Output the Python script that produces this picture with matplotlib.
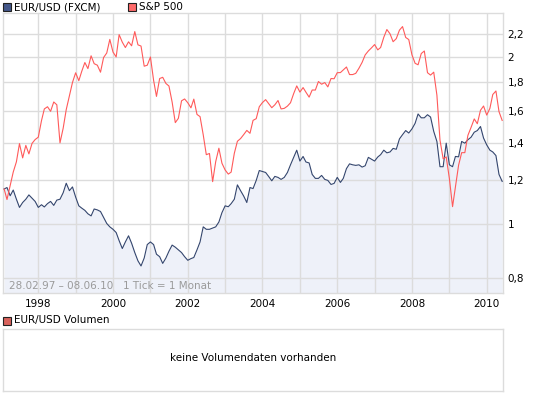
import matplotlib
matplotlib.use("Agg")
import matplotlib.pyplot as plt
import matplotlib.dates as mdates
from matplotlib.patches import Rectangle
from matplotlib.ticker import FixedLocator, FuncFormatter, NullLocator
import numpy as np
import pandas as pd

plt.rcParams['font.family'] = ['DejaVu Sans']

# ---------------- data (monthly, Feb 1997 - Jun 2010) ----------------
start_month = "1997-02-01"

eurusd = [
    1.158, 1.165, 1.126, 1.153, 1.110, 1.073, 1.095, 1.110, 1.130, 1.115, 1.100,            # 1997
    1.073, 1.085, 1.075, 1.090, 1.100, 1.082, 1.106, 1.110, 1.140, 1.186, 1.150, 1.168,     # 1998
    1.120, 1.080, 1.070, 1.060, 1.045, 1.036, 1.066, 1.062, 1.055, 1.030, 1.004, 0.990,     # 1999
    0.980, 0.967, 0.935, 0.905, 0.930, 0.954, 0.925, 0.890, 0.860, 0.842, 0.870, 0.920,     # 2000
    0.930, 0.920, 0.884, 0.875, 0.851, 0.870, 0.895, 0.918, 0.910, 0.900, 0.890, 0.875,     # 2001
    0.862, 0.868, 0.872, 0.900, 0.930, 0.990, 0.980, 0.980, 0.985, 0.990, 1.010, 1.050,     # 2002
    1.080, 1.076, 1.090, 1.110, 1.178, 1.150, 1.125, 1.095, 1.165, 1.160, 1.200, 1.250,     # 2003
    1.245, 1.240, 1.220, 1.198, 1.220, 1.215, 1.205, 1.215, 1.240, 1.280, 1.320, 1.360,     # 2004
    1.300, 1.325, 1.295, 1.290, 1.230, 1.210, 1.210, 1.225, 1.205, 1.200, 1.180, 1.185,     # 2005
    1.215, 1.190, 1.210, 1.260, 1.285, 1.280, 1.277, 1.280, 1.268, 1.275, 1.320, 1.310,     # 2006
    1.300, 1.322, 1.335, 1.360, 1.345, 1.350, 1.370, 1.365, 1.425, 1.450, 1.475, 1.460,     # 2007
    1.485, 1.520, 1.580, 1.555, 1.555, 1.575, 1.560, 1.470, 1.410, 1.270, 1.270, 1.400,     # 2008
    1.280, 1.270, 1.325, 1.323, 1.410, 1.400, 1.420, 1.435, 1.465, 1.475, 1.500, 1.430,     # 2009
    1.390, 1.360, 1.350, 1.330, 1.230, 1.195,                                               # 2010
]

sp500 = [
    790.82, 757.12, 801.34, 848.28, 885.14, 954.29, 899.47, 947.28, 914.62, 955.40, 970.43,
    980.28, 1049.34, 1101.75, 1111.75, 1090.82, 1133.84, 1120.67, 957.28, 1017.01, 1098.67, 1163.63, 1229.23,
    1279.64, 1238.33, 1286.37, 1335.18, 1301.84, 1372.71, 1328.72, 1320.41, 1282.71, 1362.93, 1388.91, 1469.25,
    1394.46, 1366.42, 1498.58, 1452.43, 1420.60, 1454.60, 1430.83, 1517.68, 1436.51, 1429.40, 1314.95, 1320.28,
    1366.01, 1239.94, 1160.33, 1249.46, 1255.82, 1224.42, 1211.23, 1133.58, 1040.94, 1059.78, 1139.45, 1148.08,
    1130.20, 1106.73, 1147.39, 1076.92, 1067.14, 989.82, 911.62, 916.07, 815.28, 885.76, 936.31, 879.82,
    855.70, 841.15, 848.18, 916.92, 963.59, 974.50, 990.31, 1008.01, 995.97, 1050.71, 1058.20, 1111.92,
    1131.13, 1144.94, 1126.21, 1107.30, 1120.68, 1140.84, 1101.72, 1104.24, 1114.58, 1130.20, 1173.82, 1211.92,
    1181.27, 1203.60, 1180.59, 1156.85, 1191.50, 1191.33, 1234.18, 1220.33, 1228.81, 1207.01, 1249.48, 1248.29,
    1280.08, 1280.66, 1294.83, 1310.61, 1270.09, 1270.20, 1276.66, 1303.82, 1335.85, 1377.94, 1400.63, 1418.30,
    1438.24, 1406.82, 1420.86, 1482.37, 1530.62, 1503.35, 1455.27, 1473.99, 1526.75, 1549.38, 1481.14, 1468.36,
    1378.55, 1330.63, 1322.70, 1385.59, 1400.38, 1280.00, 1267.38, 1282.83, 1166.36, 968.75, 896.24, 903.25,
    825.88, 735.09, 797.87, 872.81, 919.14, 919.32, 987.48, 1020.62, 1057.08, 1036.19, 1095.63, 1115.10,
    1073.87, 1104.49, 1169.43, 1186.69, 1089.41, 1050.47,
]

y_ticks = [0.8, 1.0, 1.2, 1.4, 1.6, 1.8, 2.0, 2.2]
year_labels = [1998, 2000, 2002, 2004, 2006, 2008, 2010]

# ---------------- derived ----------------
dates = pd.date_range(start_month, periods=len(eurusd), freq="MS")
sp_rel = np.array(sp500) / sp500[0] * eurusd[0]   # S&P 500 relative to EUR/USD start

W, H = 545, 395
fig = plt.figure(figsize=(W / 100, H / 100), dpi=100)
fig.patch.set_facecolor("white")

def fx(px):
    return px / W

def fy(py):
    return 1 - py / H

L, R = 2.7, 503.3
T1, B1 = 13.3, 293.0
ax = fig.add_axes([fx(L), fy(B1), fx(R - L), (B1 - T1) / H])

grid_c = "#dcdcdc"
blue = "#34466e"
red = "#ff5a5a"
fill_c = "#eef1f9"

ax.set_yscale("log")
ymin, ymax = 0.7528, 2.397
ax.set_ylim(ymin, ymax)
ax.set_xlim(pd.Timestamp("1997-01-18"), pd.Timestamp("2010-06-12"))

ax.fill_between(dates, eurusd, ymin * 0.5, color=fill_c, lw=0, zorder=1)
ax.plot(dates, eurusd, color=blue, lw=0.8, zorder=3)
ax.plot(dates, sp_rel, color=red, lw=0.8, zorder=3)

ax.yaxis.set_major_locator(FixedLocator(y_ticks))
ax.yaxis.set_minor_locator(NullLocator())
ax.yaxis.set_major_formatter(FuncFormatter(lambda v, p: (("%g" % v).replace(".", ","))))
ax.yaxis.tick_right()
ax.tick_params(axis="y", length=0, pad=3, labelsize=7.5, colors="black")

ax.xaxis.set_major_locator(FixedLocator([mdates.date2num(pd.Timestamp(f"{y}-01-01")) for y in year_labels]))
ax.xaxis.set_minor_locator(mdates.YearLocator(1))
ax.xaxis.set_major_formatter(mdates.DateFormatter("%Y"))
ax.tick_params(axis="x", which="both", length=0, pad=4, labelsize=7.5)

ax.grid(True, which="major", axis="y", color=grid_c, lw=1.0, zorder=2)
ax.grid(True, which="both", axis="x", color=grid_c, lw=1.0, zorder=2)
ax.set_axisbelow(False)
for s in ax.spines.values():
    s.set_color(grid_c)
    s.set_linewidth(1.0)

ax.text((9.3 - L) / (R - L), (B1 - 286) / (B1 - T1),
        "28.02.97 \u2013 08.06.10   1 Tick = 1 Monat",
        transform=ax.transAxes, fontsize=7.5, color="#9a9a9a", va="center", ha="left", zorder=4)

# lower (volume) panel
T2, B2 = 328.5, 390.8
ax2 = fig.add_axes([fx(L), fy(B2), fx(R - L), (B2 - T2) / H])
ax2.set_xticks([])
ax2.set_yticks([])
for s in ax2.spines.values():
    s.set_color(grid_c)
    s.set_linewidth(1.0)
ax2.text(0.5, 0.53, "keine Volumendaten vorhanden", transform=ax2.transAxes,
         ha="center", va="center", fontsize=7.5, color="black")

# legends
def legend_item(x, y, color, label):
    fig.add_artist(Rectangle((fx(x), fy(y + 4)), 8 / W, 8 / H, transform=fig.transFigure,
                             facecolor=color, edgecolor="#222222", lw=0.8))
    fig.text(fx(x + 11), fy(y), label, fontsize=7.5, va="center", ha="left")

legend_item(3, 7.3, "#44578a", "EUR/USD (FXCM)")
legend_item(128, 7.3, "#ff6a6a", "S&P 500")
legend_item(3, 320.5, "#d9625c", "EUR/USD Volumen")

fig.savefig("out.png", dpi=100)
